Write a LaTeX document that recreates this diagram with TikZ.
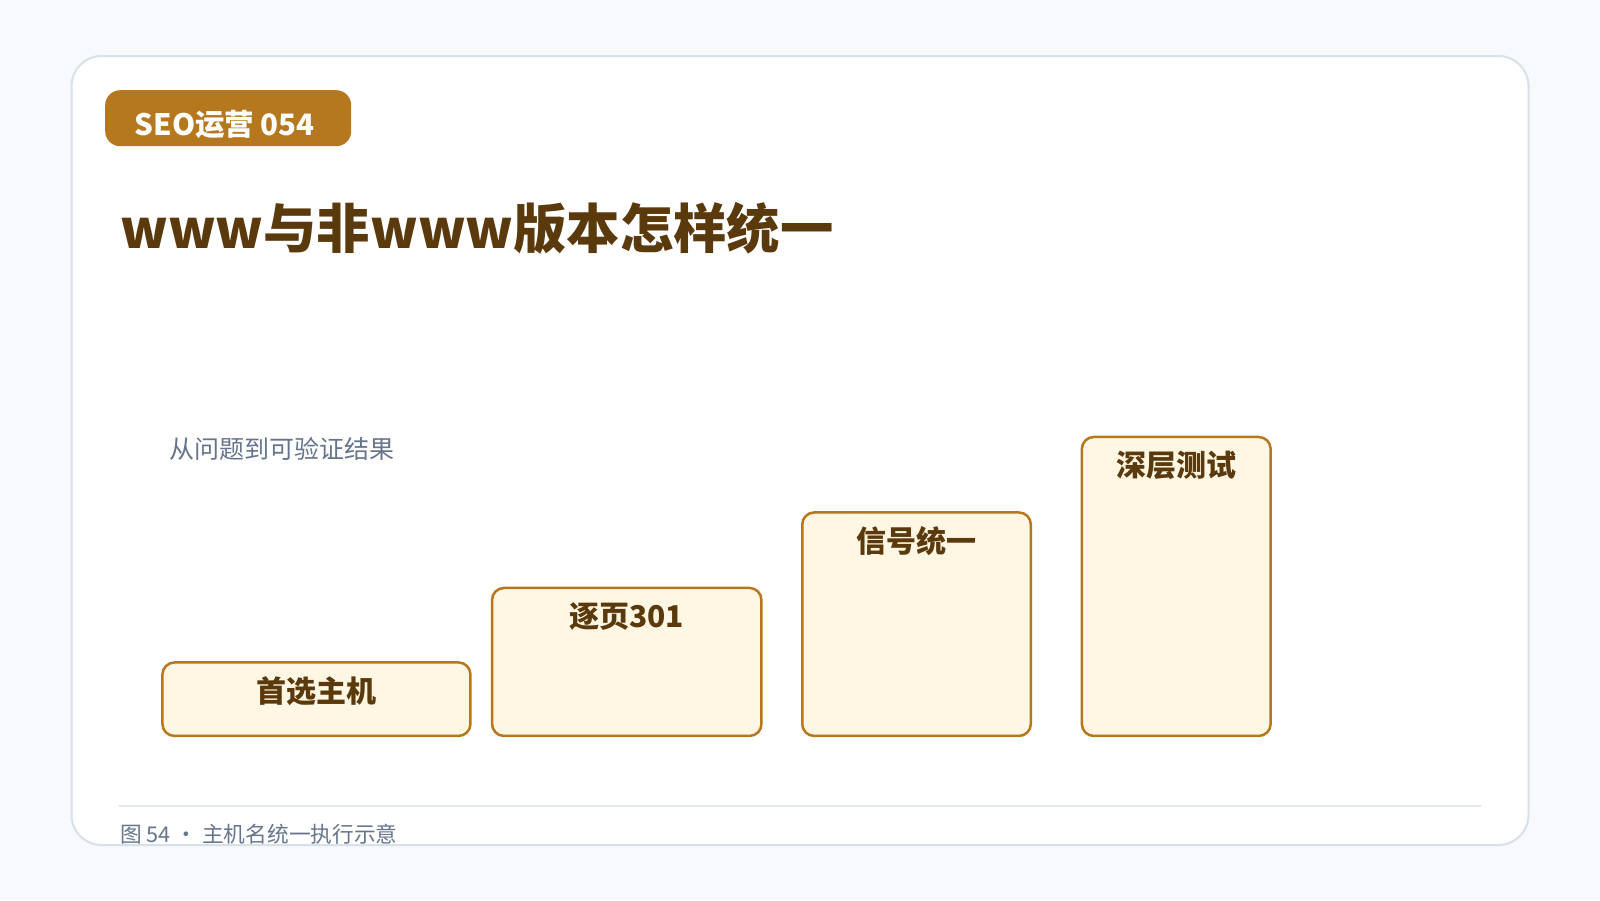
\documentclass[tikz,border=0pt]{standalone}
\usepackage{fontspec}
\setmainfont{Noto Sans CJK SC}
\definecolor{bgc}{HTML}{F7F9FC}
\definecolor{cardline}{HTML}{D8E0EA}
\definecolor{gold}{HTML}{B5781F}
\definecolor{titlec}{HTML}{5A3A0C}
\definecolor{boxfill}{HTML}{FFF6E3}
\definecolor{subc}{HTML}{66758C}
\definecolor{rulec}{HTML}{E2E8F0}
\tikzset{
  stepbox/.style={draw=gold, line width=2.5pt, fill=boxfill, rounded corners=12pt, anchor=north west, inner sep=0pt},
  lbl/.style={font=\bfseries\fontsize{30}{34}\selectfont, text=titlec, anchor=center, inner sep=0pt},
}
\begin{document}
\begin{tikzpicture}[x=1pt,y=-1pt]
\useasboundingbox[fill=bgc] (0,0) rectangle (1600,900);
% card
\draw[draw=cardline, line width=2pt, fill=white, rounded corners=30pt] (71.5,56) rectangle (1528.5,845);
% badge
\node[fill=gold, rounded corners=15pt, minimum width=246pt, minimum height=56pt, inner sep=0pt, anchor=north west] (badge) at (105,90) {};
\node[font=\bfseries\fontsize{29.5}{33}\selectfont, text=white, inner sep=0pt] (badgetxt) at ([xshift=-3.5pt,yshift=-6pt]badge.center) {SEO运营 054};
% title
\node[font=\bfseries\fontsize{53.3}{60}\selectfont, text=titlec, anchor=base west, inner sep=0pt] (title) at (120,248) {www与非www版本怎样统一};
% subtitle
\node[font=\fontsize{25}{29}\selectfont, text=subc, anchor=west, inner sep=0pt] (sub) at (169,449) {从问题到可验证结果};
% boxes
\node[stepbox, minimum width=308pt, minimum height=73.5pt] (b1) at (161.2,661.2) {};
\node[stepbox, minimum width=269.4pt, minimum height=148pt] (b2) at (490.8,586.7) {};
\node[stepbox, minimum width=228.6pt, minimum height=223.5pt] (b3) at (801,511.2) {};
\node[stepbox, minimum width=188.8pt, minimum height=299pt] (b4) at (1080.6,435.7) {};
\node[lbl] (l1) at ([yshift=-29.6pt]b1.north) {首选主机};
\node[lbl] (l2) at ([yshift=-29.6pt]b2.north) {逐页301};
\node[lbl] (l3) at ([yshift=-29.6pt]b3.north) {信号统一};
\node[lbl] (l4) at ([yshift=-29.6pt]b4.north) {深层测试};
% footer
\coordinate (fl) at (119.4,806);
\coordinate (fr) at (1480.6,806);
\draw[draw=rulec, line width=2pt] (fl) -- (fr);
\node[font=\fontsize{21.7}{25}\selectfont, text=subc, anchor=west, inner sep=0pt] (foot) at (120,834) {图 54 • 主机名统一执行示意};
\end{tikzpicture}
\end{document}
